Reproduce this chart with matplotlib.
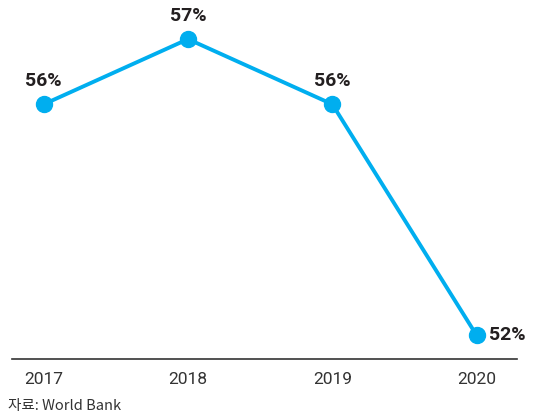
import matplotlib
matplotlib.use("Agg")
import matplotlib.pyplot as plt

# ── Data ──────────────────────────────────────────────────────────────────────
years = ["2017", "2018", "2019", "2020"]
values = [55.9, 57.0, 55.9, 52.0]
labels = ["56%", "57%", "56%", "52%"]
source = "자료: World Bank"

BLUE = "#00AEEF"
DARK = "#231f20"

fig = plt.figure(figsize=(5.5, 4.19), dpi=100)
ax = fig.add_axes([12 / 550, 60 / 419, 505 / 550, 359 / 419])

x = list(range(len(years)))
ax.plot(x, values, color=BLUE, lw=2.8, marker="o", ms=11.5,
        solid_joinstyle="miter", zorder=3, clip_on=False)

# value labels
for i, (v, lab) in enumerate(zip(values, labels)):
    if i == len(values) - 1:
        ax.annotate(lab, (i, v), xytext=(9, 0), textcoords="offset points",
                    ha="left", va="center", fontsize=14, fontweight="bold",
                    family="Roboto", color=DARK)
    else:
        ax.annotate(lab, (i, v), xytext=(0, 10), textcoords="offset points",
                    ha="center", va="bottom", fontsize=14, fontweight="bold",
                    family="Roboto", color=DARK)

ax.set_xlim(-0.22, 3.28)
ax.set_ylim(51.6, 57.66)
ax.set_xticks(x)
ax.set_xticklabels(years, fontsize=12.5, family="Roboto", color="#333333")
ax.tick_params(axis="x", length=0, pad=9)
ax.set_yticks([])
for s in ["top", "left", "right"]:
    ax.spines[s].set_visible(False)
ax.spines["bottom"].set_color("#333333")
ax.spines["bottom"].set_linewidth(1.2)

fig.text(8 / 550, 1 - 406 / 419, source, fontsize=10.5, ha="left",
         va="center", family=["Noto Sans CJK KR", "DejaVu Sans"],
         color="#333333")

fig.savefig("out.png", dpi=100)
